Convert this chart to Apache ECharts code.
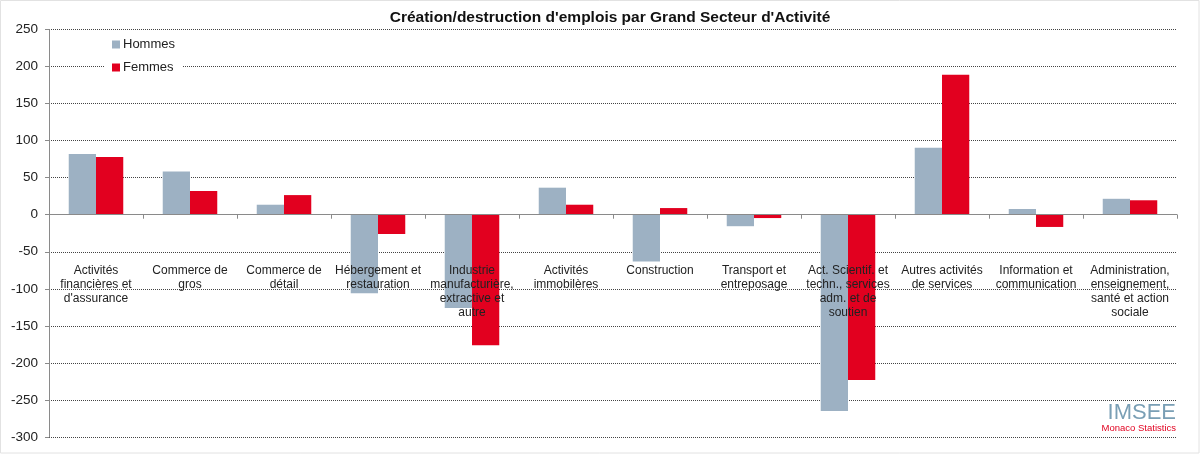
<!DOCTYPE html>
<html>
<head>
<meta charset="utf-8">
<script src="https://cdn.jsdelivr.net/npm/echarts@6/dist/echarts.min.js"></script>
<style>
html,body{margin:0;padding:0;background:#fff;}
#c{width:1200px;height:454px;}
</style>
</head>
<body>
<div id="c"></div>
<script>
const categories = [
  "Activités\nfinancières et\nd'assurance",
  "Commerce de\ngros",
  "Commerce de\ndétail",
  "Hébergement et\nrestauration",
  "Industrie\nmanufacturière,\nextractive et\nautre",
  "Activités\nimmobilères",
  "Construction",
  "Transport et\nentreposage",
  "Act. Scientif. et\ntechn., services\nadm. et de\nsoutien",
  "Autres activités\nde services",
  "Information et\ncommunication",
  "Administration,\nenseignement,\nsanté et action\nsociale"
];
const hommes = [82, 58.5, 13.5, -106, -126, 36.5, -63, -15.5, -265, 90.5, 7.7, 21.5];
const femmes = [78, 32, 26.5, -26, -176, 13.5, 9, -4.5, -223, 189, -16.5, 19.5];
const seriesNames = ["Hommes", "Femmes"];
const titleText = "Création/destruction d'emplois par Grand Secteur d'Activité";

const FONT = "'Liberation Sans', Arial, Helvetica, sans-serif";
const chart = echarts.init(document.getElementById('c'), null, {renderer: 'canvas'});
chart.setOption({
  animation: false,
  backgroundColor: '#fff',
  textStyle: {fontFamily: FONT},
  title: {
    text: titleText,
    left: 605,
    textAlign: 'center',
    top: 5,
    textStyle: {fontSize: 15.5, fontWeight: 'bold', color: '#111', fontFamily: FONT}
  },
  legend: {
    orient: 'vertical',
    left: 104,
    top: 34,
    itemWidth: 8,
    itemHeight: 8,
    itemGap: 10,
    icon: 'rect',
    backgroundColor: '#fff',
    padding: [4, 8, 4, 8],
    textStyle: {fontSize: 13, color: '#222', fontFamily: FONT, padding: [0, 0, 0, -2]},
    data: seriesNames
  },
  grid: {left: 49, right: 23, top: 29.5, bottom: 17, containLabel: false, outerBoundsMode: 'none'},
  xAxis: {
    type: 'category',
    data: categories,
    z: 10,
    axisLine: {onZero: true, lineStyle: {color: '#8a8a8a', width: 1}},
    axisTick: {show: true, inside: false, length: 4, lineStyle: {color: '#8a8a8a'}},
    axisLabel: {
      interval: 0,
      margin: -173,
      fontSize: 12,
      lineHeight: 14,
      color: '#222',
      fontFamily: FONT
    },
    splitLine: {show: false}
  },
  yAxis: {
    type: 'value',
    min: -300,
    max: 250,
    interval: 50,
    axisLine: {show: true, lineStyle: {color: '#8a8a8a', width: 1}},
    axisTick: {show: true, length: 4, lineStyle: {color: '#8a8a8a'}},
    axisLabel: {fontSize: 13.5, color: '#222', margin: 11, fontFamily: FONT},
    splitLine: {show: true, lineStyle: {color: '#444', type: [1, 1], width: 1}}
  },
  series: [
    {
      name: seriesNames[0],
      type: 'bar',
      data: hommes,
      barGap: '0%',
      barCategoryGap: '42%',
      itemStyle: {color: '#9DB1C3'}
    },
    {
      name: seriesNames[1],
      type: 'bar',
      data: femmes,
      itemStyle: {color: '#E2001F'}
    }
  ],
  graphic: [
    {
      type: 'rect',
      shape: {x: 0.5, y: 0.5, width: 1198.5, height: 452.5},
      style: {fill: 'none', stroke: '#e2e2e2', lineWidth: 1},
      silent: true,
      z: -1
    },
    {
      type: 'text',
      right: 24,
      top: 402,
      style: {text: 'IMSEE', font: "22px " + FONT, fill: '#7A9FB5'},
      z: 20
    },
    {
      type: 'text',
      right: 24,
      top: 423,
      style: {text: 'Monaco Statistics', font: "9.5px " + FONT, fill: '#E2001F'},
      z: 20
    }
  ]
});
</script>
</body>
</html>
